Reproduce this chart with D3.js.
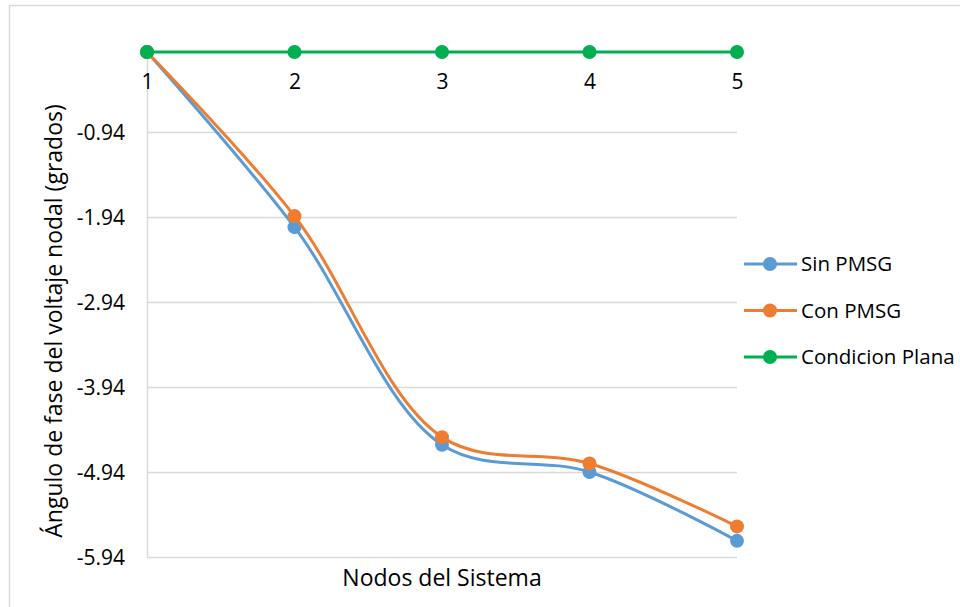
<!DOCTYPE html>
<html>
<head>
<meta charset="utf-8">
<script src="https://cdn.jsdelivr.net/npm/d3@7"></script>
<style>
  html, body { margin: 0; padding: 0; background: #fff; }
  svg { display: block; font-family: "Open Sans", "Noto Sans", sans-serif; }
</style>
</head>
<body>
<svg id="chart" width="960" height="607"></svg>
<script>
const nodes = [1, 2, 3, 4, 5];
const sinPMSG = [0, -2.06, -4.62, -4.94, -5.75];
const conPMSG = [0, -1.93, -4.53, -4.84, -5.58];
const condicionPlana = [0, 0, 0, 0, 0];
const yTicks = [-0.94, -1.94, -2.94, -3.94, -4.94, -5.94];
const seriesNames = ["Sin PMSG", "Con PMSG", "Condicion Plana"];
const seriesColors = ["#5B9BD5", "#ED7D31", "#00B050"];

const svg = d3.select("#chart");
const FONT = "'Open Sans', 'Noto Sans', sans-serif";

// outer border
svg.append("rect").attr("x", 9.5).attr("y", 5.5).attr("width", 1000).attr("height", 1000)
  .attr("fill", "none").attr("stroke", "#d9d9d9").attr("stroke-width", 1.5);

const x = d3.scalePoint().domain(nodes).range([147, 737]);
const y = d3.scaleLinear().domain([0, -5.94]).range([52, 557]);

// gridlines
svg.append("g").selectAll("line").data(yTicks).join("line")
  .attr("x1", 147).attr("x2", 737)
  .attr("y1", d => Math.round(y(d)) + 0.5).attr("y2", d => Math.round(y(d)) + 0.5)
  .attr("stroke", "#d9d9d9").attr("stroke-width", 1.5);

// y axis line
svg.append("line").attr("x1", 147.5).attr("x2", 147.5).attr("y1", 52).attr("y2", 557)
  .attr("stroke", "#d9d9d9").attr("stroke-width", 1.5);

// y tick labels
const yAxis = d3.axisLeft(y).tickValues(yTicks).tickSize(0).tickPadding(0)
  .tickFormat(d => d.toFixed(2).replace("\u2212", "-"));
const gy = svg.append("g").attr("transform", "translate(125,0)").call(yAxis);
gy.select(".domain").remove();
gy.selectAll("text").attr("font-size", 21).attr("fill", "#000").attr("font-family", FONT).attr("dy", "0.35em");

// x tick labels (positioned below the 0 line)
const xAxis = d3.axisBottom(x).tickSize(0).tickPadding(0);
const gx = svg.append("g").attr("transform", "translate(0,74)").call(xAxis);
gx.select(".domain").remove();
gx.selectAll("text").attr("font-size", 21).attr("fill", "#000").attr("font-family", FONT);

// axis titles
svg.append("text").attr("x", 442).attr("y", 586).attr("text-anchor", "middle")
  .attr("font-size", 23).attr("fill", "#000").text("Nodos del Sistema");
svg.append("text").attr("transform", "translate(62,321) rotate(-90)").attr("text-anchor", "middle")
  .attr("font-size", 23).attr("fill", "#000").text("Ángulo de fase del voltaje nodal (grados)");

const allSeries = [sinPMSG, conPMSG, condicionPlana];
const line = d3.line().x((d, i) => x(nodes[i])).y(d => y(d)).curve(d3.curveCatmullRom.alpha(0.5));

allSeries.forEach((vals, k) => {
  const g = svg.append("g");
  g.append("path").datum(vals).attr("d", line).attr("fill", "none")
    .attr("stroke", seriesColors[k]).attr("stroke-width", 3).attr("stroke-linejoin", "round");
  g.selectAll("circle").data(vals).join("circle")
    .attr("cx", (d, i) => x(nodes[i])).attr("cy", d => y(d)).attr("r", 7)
    .attr("fill", seriesColors[k]);
});

// legend
const legend = svg.append("g");
seriesNames.forEach((name, k) => {
  const ly = 264 + k * 46.5;
  legend.append("line").attr("x1", 744).attr("x2", 797).attr("y1", ly).attr("y2", ly)
    .attr("stroke", seriesColors[k]).attr("stroke-width", 3);
  legend.append("circle").attr("cx", 770).attr("cy", ly).attr("r", 7).attr("fill", seriesColors[k]);
  legend.append("text").attr("x", 801).attr("y", ly).attr("dy", "0.35em")
    .attr("font-size", 20.5).attr("fill", "#000").text(name);
});
</script>
</body>
</html>
